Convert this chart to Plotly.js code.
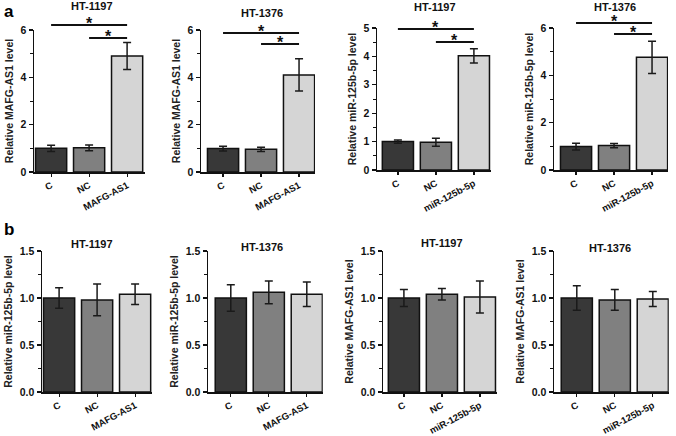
<!DOCTYPE html>
<html><head><meta charset="utf-8">
<script src="https://cdn.plot.ly/plotly-3.0.1.min.js"></script>
<style>html,body{margin:0;padding:0;background:#fff}#chart{width:676px;height:436px}</style>
</head><body><div id="chart"></div>
<script>
// ---- data ----
const groupsMAFG = ['C', 'NC', 'MAFG-AS1'];
const groupsMIR = ['C', 'NC', 'miR-125b-5p'];
const panelTitles = ['HT-1197', 'HT-1376', 'HT-1197', 'HT-1376', 'HT-1197', 'HT-1376', 'HT-1197', 'HT-1376'];
const yTitles = ['Relative MAFG-AS1 level', 'Relative MAFG-AS1 level', 'Relative miR-125b-5p level', 'Relative miR-125b-5p level',
                 'Relative miR-125b-5p level', 'Relative miR-125b-5p level', 'Relative MAFG-AS1 level', 'Relative MAFG-AS1 level'];
const a1Mean = [1.0, 1.02, 4.9],  a1Err = [0.13, 0.12, 0.57];
const a2Mean = [0.99, 0.96, 4.1], a2Err = [0.1, 0.09, 0.68];
const a3Mean = [1.0, 0.98, 4.02], a3Err = [0.06, 0.14, 0.25];
const a4Mean = [0.99, 1.03, 4.76], a4Err = [0.14, 0.09, 0.68];
const b1Mean = [1.0, 0.98, 1.04], b1Err = [0.11, 0.17, 0.11];
const b2Mean = [1.0, 1.06, 1.04], b2Err = [0.14, 0.12, 0.13];
const b3Mean = [1.0, 1.04, 1.01], b3Err = [0.09, 0.06, 0.17];
const b4Mean = [1.0, 0.98, 0.99], b4Err = [0.13, 0.11, 0.08];
const yMax = [6, 6, 5, 6, 1.5, 1.5, 1.5, 1.5];
const yMajor = [2, 2, 1, 2, 0.5, 0.5, 0.5, 0.5];
const yMinor = [1, 1, 0.5, 1, 0.25, 0.25, 0.25, 0.25];

// ---- styling / geometry ----
const W = 676, H = 436;
const barColors = ['#383838', '#808080', '#d5d5d5'];
const geom = [
  {left: 34,  x0: -0.45, x1: 2.47, top: 30,  bottom: 172, sig: [25, 38]},
  {left: 201, x0: -0.58, x1: 2.42, top: 30,  bottom: 172, sig: [33, 44]},
  {left: 377, x0: -0.55, x1: 2.45, top: 28,  bottom: 170, sig: [29, 42]},
  {left: 554, x0: -0.58, x1: 2.42, top: 28,  bottom: 170, sig: [23, 34]},
  {left: 42,  x0: -0.45, x1: 2.45, top: 251, bottom: 392, title: 244},
  {left: 208, x0: -0.6,  x1: 2.42, top: 251, bottom: 392, title: 247},
  {left: 383, x0: -0.55, x1: 2.45, top: 251, bottom: 392, title: 243},
  {left: 554, x0: -0.6,  x1: 2.42, top: 251, bottom: 392, title: 248},
];
const titleY = [6, 13, 7, 7];
const titleX = [92, 262, 435, 615, 92, 262, 442, 610];
const STEP = 38;

const means = [a1Mean, a2Mean, a3Mean, a4Mean, b1Mean, b2Mean, b3Mean, b4Mean];
const errs = [a1Err, a2Err, a3Err, a4Err, b1Err, b2Err, b3Err, b4Err];
const cats = [groupsMAFG, groupsMAFG, groupsMIR, groupsMIR, groupsMAFG, groupsMAFG, groupsMIR, groupsMIR];

const FONT = 'Liberation Sans, Arial, sans-serif';
const px = x => x / W;
const py = y => 1 - y / H;

const data = [];
const layout = {
  width: W, height: H, margin: {l: 0, r: 0, t: 0, b: 0},
  paper_bgcolor: '#fff', plot_bgcolor: '#fff', showlegend: false,
  font: {family: FONT, color: '#111'},
  shapes: [], annotations: []
};

geom.forEach((g, i) => {
  const n = i + 1;
  const xa = 'xaxis' + (n === 1 ? '' : n), ya = 'yaxis' + (n === 1 ? '' : n);
  const xr = 'x' + (n === 1 ? '' : n), yr = 'y' + (n === 1 ? '' : n);
  const right = g.left + (g.x1 - g.x0) * STEP;
  data.push({
    type: 'bar', x: cats[i], y: means[i], xaxis: xr, yaxis: yr, width: 0.82,
    marker: {color: barColors, line: {color: '#111', width: 1.5}},
    error_y: {type: 'data', array: errs[i], visible: true, color: '#1a1a1a', thickness: 1.5, width: 4},
    hoverinfo: 'none'
  });
  layout[xa] = {
    domain: [px(g.left), px(right)], anchor: yr, type: 'category', range: [g.x0, g.x1],
    showline: true, linecolor: '#111', linewidth: 1.5, ticks: 'outside', ticklen: 3, tickwidth: 1.2, tickcolor: '#111',
    tickangle: -28, tickfont: {size: 9.5, family: FONT, weight: 'bold', color: '#111'},
    showgrid: false, zeroline: false, fixedrange: true
  };
  layout[ya] = {
    domain: [py(g.bottom), py(g.top)], anchor: xr, range: [0, yMax[i]],
    dtick: yMajor[i], tick0: 0, tickformat: i >= 4 ? '.1f' : 'd',
    showline: true, linecolor: '#111', linewidth: 1.5, ticks: 'outside', ticklen: 4, tickwidth: 1.2, tickcolor: '#111',
    minor: {dtick: yMinor[i], ticks: 'outside', ticklen: 2.5, tickwidth: 1, tickcolor: '#111', showgrid: false},
    tickfont: {size: 10.5, family: FONT, weight: 'bold', color: '#111'},
    title: {text: yTitles[i], font: {size: 10.5, family: FONT, weight: 'bold', color: '#222'}, standoff: 5},
    showgrid: false, zeroline: false, fixedrange: true
  };
  // panel titles
  const ty = i < 4 ? titleY[i] : g.title;
  layout.annotations.push({
    text: '<b>' + panelTitles[i] + '</b>', xref: 'paper', yref: 'paper', x: px(titleX[i]), y: py(ty),
    xanchor: 'center', yanchor: 'middle', showarrow: false, font: {size: 11, family: FONT, color: '#111'}
  });
  // significance lines
  if (g.sig) {
    [[0, 2, g.sig[0]], [1, 2, g.sig[1]]].forEach(([a, b, yy]) => {
      layout.shapes.push({type: 'line', xref: xr, yref: 'paper', x0: a, x1: b, y0: py(yy), y1: py(yy),
        line: {color: '#111', width: 1.8}});
      layout.annotations.push({text: '<b>*</b>', xref: xr, yref: 'paper', x: (a + b) / 2, y: py(yy + 9),
        xanchor: 'center', yanchor: 'bottom', showarrow: false, font: {size: 16, family: FONT, color: '#111'}});
    });
  }
});
layout.annotations.push({text: '<b>a</b>', xref: 'paper', yref: 'paper', x: px(2), y: py(0), xanchor: 'left', yanchor: 'top',
  showarrow: false, font: {size: 17, family: FONT, color: '#000'}});
layout.annotations.push({text: '<b>b</b>', xref: 'paper', yref: 'paper', x: px(2), y: py(218), xanchor: 'left', yanchor: 'top',
  showarrow: false, font: {size: 17, family: FONT, color: '#000'}});

Plotly.newPlot('chart', data, layout, {staticPlot: true, displayModeBar: false});
</script></body></html>
